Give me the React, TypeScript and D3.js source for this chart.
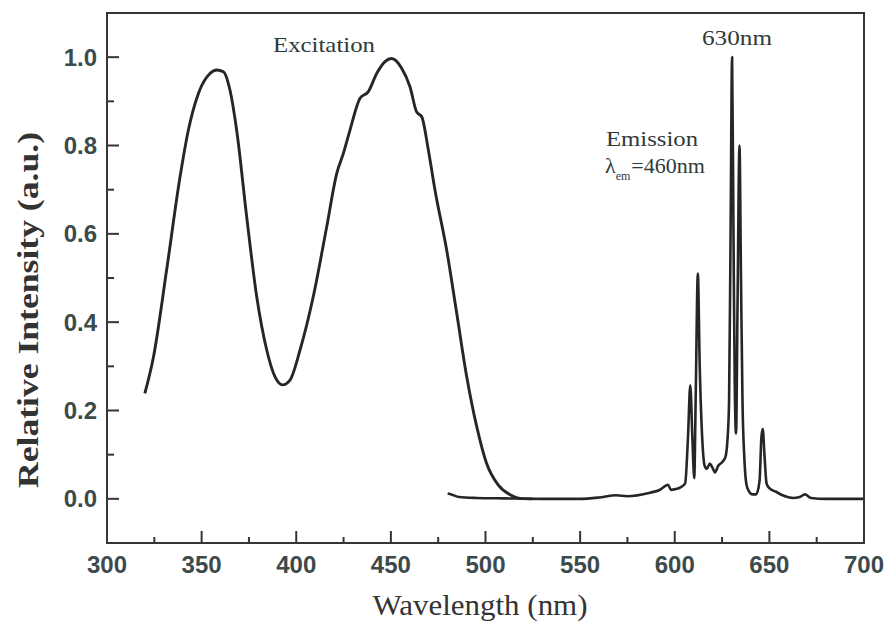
import React, { useEffect, useRef } from 'react';
import * as d3 from 'd3';

// excitation spectrum (monitored at 630nm)
const excitationWl = [320, 324.5, 331.5, 338.6, 343, 348.3, 354.4, 358, 361.5, 365, 368.5, 373.8, 379.1, 384.4, 388.8, 392.8, 396.7, 402, 409, 416.1, 421.4, 424.9, 428.4, 433.7, 438.1, 442.5, 446.9, 450.4, 455.7, 460.1, 463.6, 466.3, 469.8, 473.3, 479.5, 484.8, 490.1, 495.4, 500.6, 506.8, 513, 518.2, 525];
const excitationI = [0.239, 0.32, 0.518, 0.729, 0.835, 0.918, 0.963, 0.971, 0.967, 0.925, 0.835, 0.639, 0.458, 0.337, 0.276, 0.258, 0.269, 0.337, 0.458, 0.616, 0.737, 0.782, 0.835, 0.907, 0.922, 0.963, 0.99, 0.997, 0.975, 0.933, 0.876, 0.865, 0.79, 0.699, 0.563, 0.42, 0.276, 0.163, 0.08, 0.031, 0.009, 0.001, 0];

// emission spectrum (excited at 460nm)
const emissionWl = [480, 482, 486, 495, 510, 530, 550, 560, 569, 575, 587, 592, 596.5, 598, 600.5, 603, 605.5, 607, 608.2, 609.3, 610.3, 611.1, 612.2, 613.2, 614.6, 615.8, 617, 618.5, 620, 621.2, 623, 625.5, 626.8, 627.8, 628.7, 629.5, 630.3, 631, 631.7, 632.4, 633.2, 634.2, 635, 635.8, 636.8, 638, 639.5, 641, 643, 644.8, 645.8, 646.5, 647.4, 648.5, 650, 653.5, 657, 662.5, 666, 668.8, 672, 680, 700];
const emissionI = [0.012, 0.01, 0.004, 0.002, 0.001, 0, 0, 0.003, 0.008, 0.006, 0.014, 0.02, 0.032, 0.02, 0.022, 0.026, 0.035, 0.14, 0.257, 0.14, 0.047, 0.24, 0.51, 0.3, 0.13, 0.075, 0.068, 0.08, 0.07, 0.06, 0.075, 0.085, 0.095, 0.13, 0.22, 0.6, 1.0, 0.62, 0.26, 0.148, 0.45, 0.8, 0.5, 0.22, 0.09, 0.03, 0.015, 0.01, 0.01, 0.04, 0.14, 0.158, 0.1, 0.035, 0.024, 0.016, 0.008, 0.002, 0.004, 0.01, 0.002, 0, 0];

const xTicks = [300, 350, 400, 450, 500, 550, 600, 650, 700];
const xMinorTicks = [325, 375, 425, 475, 525, 575, 625, 675];
const yTicks = [0.0, 0.2, 0.4, 0.6, 0.8, 1.0];
const yMinorTicks = [-0.1, 0.1, 0.3, 0.5, 0.7, 0.9];

const W = 888;
const H = 628;

export default function App() {
  const svgRef = useRef<SVGSVGElement>(null);

  useEffect(() => {
    if (!svgRef.current) return;
    const svg = d3.select(svgRef.current);
    svg.selectAll('*').remove();

    const left = 107, right = 864, top = 13, bottom = 543;
    const x = d3.scaleLinear().domain([300, 700]).range([left, right]);
    const y = d3.scaleLinear().domain([-0.1, 1.1]).range([bottom, top]);

    const labelColor = '#3c4a4a';
    const lineColor = '#262626';

    svg.append('rect').attr('width', W).attr('height', H).attr('fill', '#fff');

    // curves
    const line = d3.line<[number, number]>()
      .x(d => x(d[0]))
      .y(d => y(d[1]))
      .curve(d3.curveMonotoneX);

    svg.append('path')
      .datum(excitationWl.map((w, i) => [w, excitationI[i]] as [number, number]))
      .attr('d', line)
      .attr('fill', 'none')
      .attr('stroke', lineColor)
      .attr('stroke-width', 2.9)
      .attr('stroke-linejoin', 'round');

    svg.append('path')
      .datum(emissionWl.map((w, i) => [w, emissionI[i]] as [number, number]))
      .attr('d', line)
      .attr('fill', 'none')
      .attr('stroke', lineColor)
      .attr('stroke-width', 2.6)
      .attr('stroke-linejoin', 'round');

    // frame
    svg.append('rect')
      .attr('x', left).attr('y', top)
      .attr('width', right - left).attr('height', bottom - top)
      .attr('fill', 'none')
      .attr('stroke', '#353535')
      .attr('stroke-width', 2);

    // x ticks (inward)
    const gx = svg.append('g');
    gx.selectAll('.xmaj').data(xTicks).enter().append('line')
      .attr('x1', d => x(d)).attr('x2', d => x(d))
      .attr('y1', bottom).attr('y2', bottom - 12)
      .attr('stroke', '#353535').attr('stroke-width', 2);
    gx.selectAll('.xmin').data(xMinorTicks).enter().append('line')
      .attr('x1', d => x(d)).attr('x2', d => x(d))
      .attr('y1', bottom).attr('y2', bottom - 6)
      .attr('stroke', '#353535').attr('stroke-width', 2);
    gx.selectAll('text').data(xTicks).enter().append('text')
      .attr('x', d => x(d))
      .attr('y', 573)
      .attr('text-anchor', 'middle')
      .style('font-family', '"Liberation Sans", Arial, sans-serif')
      .style('font-size', '24px')
      .style('font-weight', 'bold')
      .style('fill', labelColor)
      .text(d => d3.format('d')(d));

    // y ticks (inward)
    const gy = svg.append('g');
    gy.selectAll('.ymaj').data(yTicks).enter().append('line')
      .attr('x1', left).attr('x2', left + 12)
      .attr('y1', d => y(d)).attr('y2', d => y(d))
      .attr('stroke', '#353535').attr('stroke-width', 2);
    gy.selectAll('.ymin').data(yMinorTicks).enter().append('line')
      .attr('x1', left).attr('x2', left + 7)
      .attr('y1', d => y(d)).attr('y2', d => y(d))
      .attr('stroke', '#353535').attr('stroke-width', 2);
    gy.selectAll('text').data(yTicks).enter().append('text')
      .attr('x', 97)
      .attr('y', d => y(d) + 8.5)
      .attr('text-anchor', 'end')
      .style('font-family', '"Liberation Sans", Arial, sans-serif')
      .style('font-size', '24px')
      .style('font-weight', 'bold')
      .style('fill', labelColor)
      .text(d => d3.format('.1f')(d));

    const serif = '"Liberation Serif", "Times New Roman", serif';

    // axis titles
    svg.append('text')
      .attr('x', 480).attr('y', 615)
      .attr('text-anchor', 'middle')
      .attr('textLength', 215)
      .attr('lengthAdjust', 'spacingAndGlyphs')
      .style('font-family', serif)
      .style('font-size', '29px')
      .style('fill', '#333')
      .text('Wavelength (nm)');

    svg.append('text')
      .attr('transform', 'translate(38,310) rotate(-90)')
      .attr('text-anchor', 'middle')
      .attr('textLength', 356)
      .attr('lengthAdjust', 'spacingAndGlyphs')
      .style('font-family', serif)
      .style('font-size', '30px')
      .style('font-weight', 'bold')
      .style('fill', '#333')
      .text('Relative Intensity (a.u.)');

    // annotations
    const note = (tx: number, ty: number, txt: string, len: number) =>
      svg.append('text')
        .attr('x', tx).attr('y', ty)
        .attr('textLength', len)
        .attr('lengthAdjust', 'spacingAndGlyphs')
        .style('font-family', serif)
        .style('font-size', '22px')
        .style('fill', '#2f3a3a')
        .text(txt);

    note(273, 52, 'Excitation', 102);
    note(702, 45, '630nm', 70);
    note(606, 146, 'Emission', 92);

    const lam = svg.append('text')
      .attr('x', 605).attr('y', 173)
      .style('font-family', serif)
      .style('font-size', '22px')
      .style('fill', '#2f3a3a');
    lam.append('tspan').text('λ');
    lam.append('tspan').attr('dy', 7).style('font-size', '12px').text('em');
    lam.append('tspan').attr('dy', -7).attr('dx', 1).text('=460nm');
  }, []);

  return (
    <svg
      ref={svgRef}
      width={W}
      height={H}
      style={{ position: 'absolute', left: 0, top: 0, display: 'block' }}
    />
  );
}
